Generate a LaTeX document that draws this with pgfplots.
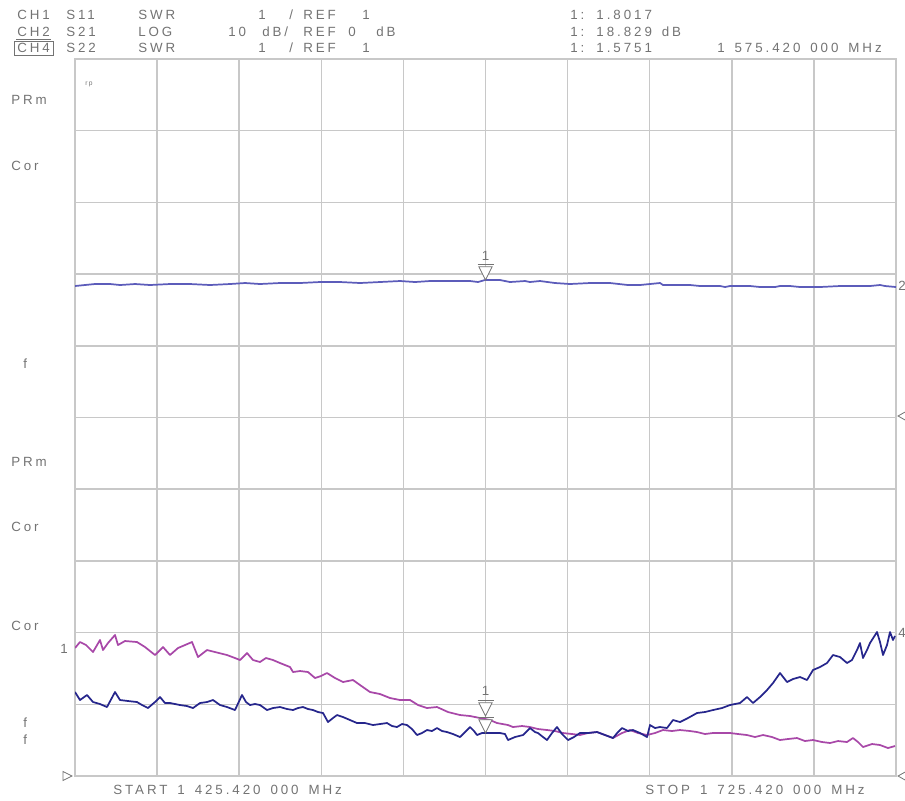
\documentclass[border=0pt]{standalone}
\usepackage{fontspec}
\setmainfont{Liberation Sans}
\newfontfamily\vna{Liberation Sans}[LetterSpace=22, WordSpace=1.5]
\usepackage{pgfplots}
\pgfplotsset{compat=1.18}

\definecolor{gridc}{RGB}{200,200,200}
\definecolor{txt}{RGB}{115,115,115}
\definecolor{cha}{RGB}{168,72,168}   % S11
\definecolor{chb}{RGB}{92,92,186}    % S21
\definecolor{chd}{RGB}{38,38,140}    % S22

% marker: apex on the trace, bar and triangle above it
\newcommand{\mkr}[2]{%
  \draw[txt, fill=white, line width=0.6pt] (axis cs:#1,#2) -- ++(-5pt,10pt) -- ++(10pt,0pt) -- cycle;
  \draw[txt, line width=0.6pt] (axis cs:#1,#2) ++(-6pt,12pt) -- ++(12pt,0pt);}

\begin{document}
\begin{tikzpicture}[x=0.75pt, y=-0.75pt,
  every node/.style={font=\vna\fontsize{10}{12}\selectfont, text=txt, inner sep=0pt}]
\useasboundingbox (0,0) rectangle (905,800);

% header
\node[anchor=base west] at (17,19) {CH1};
\node[anchor=base west] at (66,19) {S11};
\node[anchor=base west] at (138,19) {SWR};
\node[anchor=base west] at (258,19) {1};
\node[anchor=base west] at (289,19) {/};
\node[anchor=base west] at (303,19) {REF};
\node[anchor=base west] at (362,19) {1};
\node[anchor=base west] at (570,19) {1: 1.8017};

\node[anchor=base west] at (17,36) {CH2};
\draw[txt, line width=0.6pt] (16,39.5) -- (51,39.5);
\node[anchor=base west] at (66,36) {S21};
\node[anchor=base west] at (138,36) {LOG};
\node[anchor=base west] at (228,36) {10};
\node[anchor=base west] at (262,36) {dB/};
\node[anchor=base west] at (303,36) {REF};
\node[anchor=base west] at (348,36) {0};
\node[anchor=base west] at (376,36) {dB};
\node[anchor=base west] at (570,36) {1: 18.829 dB};

\node[anchor=base west] at (17,52) {CH4};
\draw[txt, line width=0.6pt] (14,41) rectangle (53,55.5);
\node[anchor=base west] at (66,52) {S22};
\node[anchor=base west] at (138,52) {SWR};
\node[anchor=base west] at (258,52) {1};
\node[anchor=base west] at (289,52) {/};
\node[anchor=base west] at (303,52) {REF};
\node[anchor=base west] at (362,52) {1};
\node[anchor=base west] at (570,52) {1: 1.5751};
\node[anchor=base west] at (717,52) {1 575.420 000 MHz};

% left annotations
\node[anchor=base west] at (11,104.5) {PRm};
\node[anchor=base west] at (11,170.5) {Cor};
\node[anchor=base west] at (23,368.5) {f};
\node[anchor=base west] at (11,466.5) {PRm};
\node[anchor=base west] at (11,531.5) {Cor};
\node[anchor=base west] at (11,630.5) {Cor};
\node[anchor=base west] at (60,653.5) {1};
\node[anchor=base west] at (23,727.5) {f};
\node[anchor=base west] at (23,744.5) {f};
\node[anchor=base west, font=\vna\fontsize{5}{6}\selectfont] at (85,85) {rp};

% bottom
\node[anchor=base west] at (113,794.5) {START 1 425.420 000 MHz};
\node[anchor=base west] at (645,794.5) {STOP 1 725.420 000 MHz};

% reference position markers
\draw[txt, line width=0.6pt] (63,771.5) -- (72,776) -- (63,780.5) -- cycle;
\draw[txt, line width=0.6pt] (906,411.5) -- (898,416) -- (906,420.5);
\draw[txt, line width=0.6pt] (906,771.5) -- (898,776) -- (906,780.5);
\node[anchor=base west] at (898,290) {2};
\node[anchor=base west] at (898,637) {4};

\begin{axis}[
    at={(56.25pt,-582pt)}, anchor=south west,
    scale only axis, width=615.75pt, height=537.75pt,
    xmin=75, xmax=896, ymin=59, ymax=776,
    y dir=reverse,
    xtick={75,157.1,239.2,321.3,403.4,485.5,567.6,649.7,731.8,813.9,896},
    ytick={59,130.7,202.4,274.1,345.8,417.5,489.2,560.9,632.6,704.3,776},
    xticklabels={}, yticklabels={},
    major tick length=0pt,
    grid=major,
    grid style={gridc, line width=1.1pt},
    axis line style={gridc, line width=1.1pt},
    every axis plot/.append style={line width=1.3pt, line join=round, mark=none},
]

% CH2 S21 (log, 10 dB/div)
\addplot[chb] coordinates {
(75,286) (85,285) (95,284) (110,284) (120,285) (135,284) (150,285) (170,284)
(190,284) (210,285) (230,284) (245,283) (260,284) (280,283) (300,283) (320,282)
(340,282) (360,283) (380,282) (400,281) (415,282) (430,281) (450,281) (470,281)
(478,282) (485,280) (500,280) (505,281) (510,282) (525,281) (530,282) (540,281)
(555,283) (570,284) (590,283) (610,283) (628,285) (640,285) (650,284) (660,283)
(663,285) (670,285) (690,285) (700,286) (720,286) (725,287) (730,286) (750,286)
(760,287) (775,287) (780,286) (790,286) (800,287) (820,287) (840,286) (850,286)
(870,286) (880,285) (885,286) (896,287)};

% CH1 S11 (SWR)
\addplot[cha] coordinates {
(75,648) (80,642) (86,645) (93,652) (100,640) (103,650) (108,643) (115,635)
(118,645) (125,641) (137,642) (145,647) (155,655) (163,647) (170,655) (178,648)
(185,645) (192,642) (198,657) (207,650) (215,652) (227,655) (235,658) (240,660)
(247,653) (253,660) (260,662) (266,658) (273,660) (280,663) (290,667) (293,672)
(300,671) (308,672) (315,678) (321,676) (327,673) (335,678) (343,682) (353,680)
(360,685) (370,692) (380,694) (390,698) (400,700) (410,700) (418,705) (427,708)
(437,707) (448,712) (460,715) (470,716) (480,718) (490,720) (497,723) (508,725)
(513,727) (522,726) (530,727) (538,729) (547,730) (555,731) (563,733) (572,734)
(580,735) (588,733) (597,732) (605,735) (613,738) (622,733) (630,730) (638,733)
(647,735) (655,733) (663,730) (672,731) (680,730) (690,731) (697,732) (705,734)
(713,733) (722,733) (730,733) (738,734) (747,735) (755,737) (763,735) (772,737)
(780,740) (788,739) (797,738) (805,741) (813,740) (822,742) (830,743) (838,741)
(847,742) (853,738) (858,742) (863,747) (872,744) (880,745) (888,748) (895,746)};

% CH4 S22 (SWR)
\addplot[chd] coordinates {
(75,692) (80,700) (87,695) (93,702) (100,704) (107,707) (115,692) (120,700)
(128,701) (137,702) (142,705) (148,708) (155,702) (160,697) (165,703) (170,703)
(180,705) (187,706) (193,708) (200,703) (207,702) (213,700) (220,705) (227,707)
(235,710) (242,695) (246,702) (250,705) (255,704) (260,705) (267,710) (273,708)
(280,707) (287,709) (293,710) (298,708) (303,707) (308,709) (313,710) (318,712)
(323,713) (328,722) (333,718) (337,715) (343,717) (350,720) (357,723) (365,723)
(373,725) (380,724) (387,723) (392,726) (397,727) (402,724) (407,725) (412,729)
(417,735) (422,733) (427,730) (432,731) (437,728) (442,731) (447,732) (453,734)
(460,737) (465,732) (470,727) (474,731) (477,735) (482,733) (490,733) (500,733)
(505,734) (508,740) (515,737) (523,735) (530,728) (535,732) (538,733) (543,737)
(547,740) (552,733) (557,727) (562,734) (568,740) (574,737) (580,733) (588,733)
(597,732) (605,735) (613,738) (618,732) (622,728) (628,731) (633,730) (640,733)
(647,737) (650,725) (655,728) (660,727) (667,728) (673,720) (680,722) (688,718)
(697,713) (705,712) (713,710) (722,708) (730,705) (740,703) (747,697) (753,703)
(760,697) (767,690) (773,683) (780,673) (787,682) (793,679) (800,677) (807,680)
(813,670) (820,667) (827,663) (833,655) (840,657) (847,663) (852,660) (857,650)
(860,643) (863,658) (867,650) (870,643) (877,632) (880,642) (883,655) (887,645)
(890,632) (893,640) (895,636)};

% markers at 1 575.42 MHz
\mkr{485.5}{280}
\node[anchor=base] at (axis cs:485.5,260) {1};
\mkr{485.5}{733}
\mkr{485.5}{716}
\node[anchor=base] at (axis cs:485.5,695) {1};
\end{axis}
\end{tikzpicture}
\end{document}
